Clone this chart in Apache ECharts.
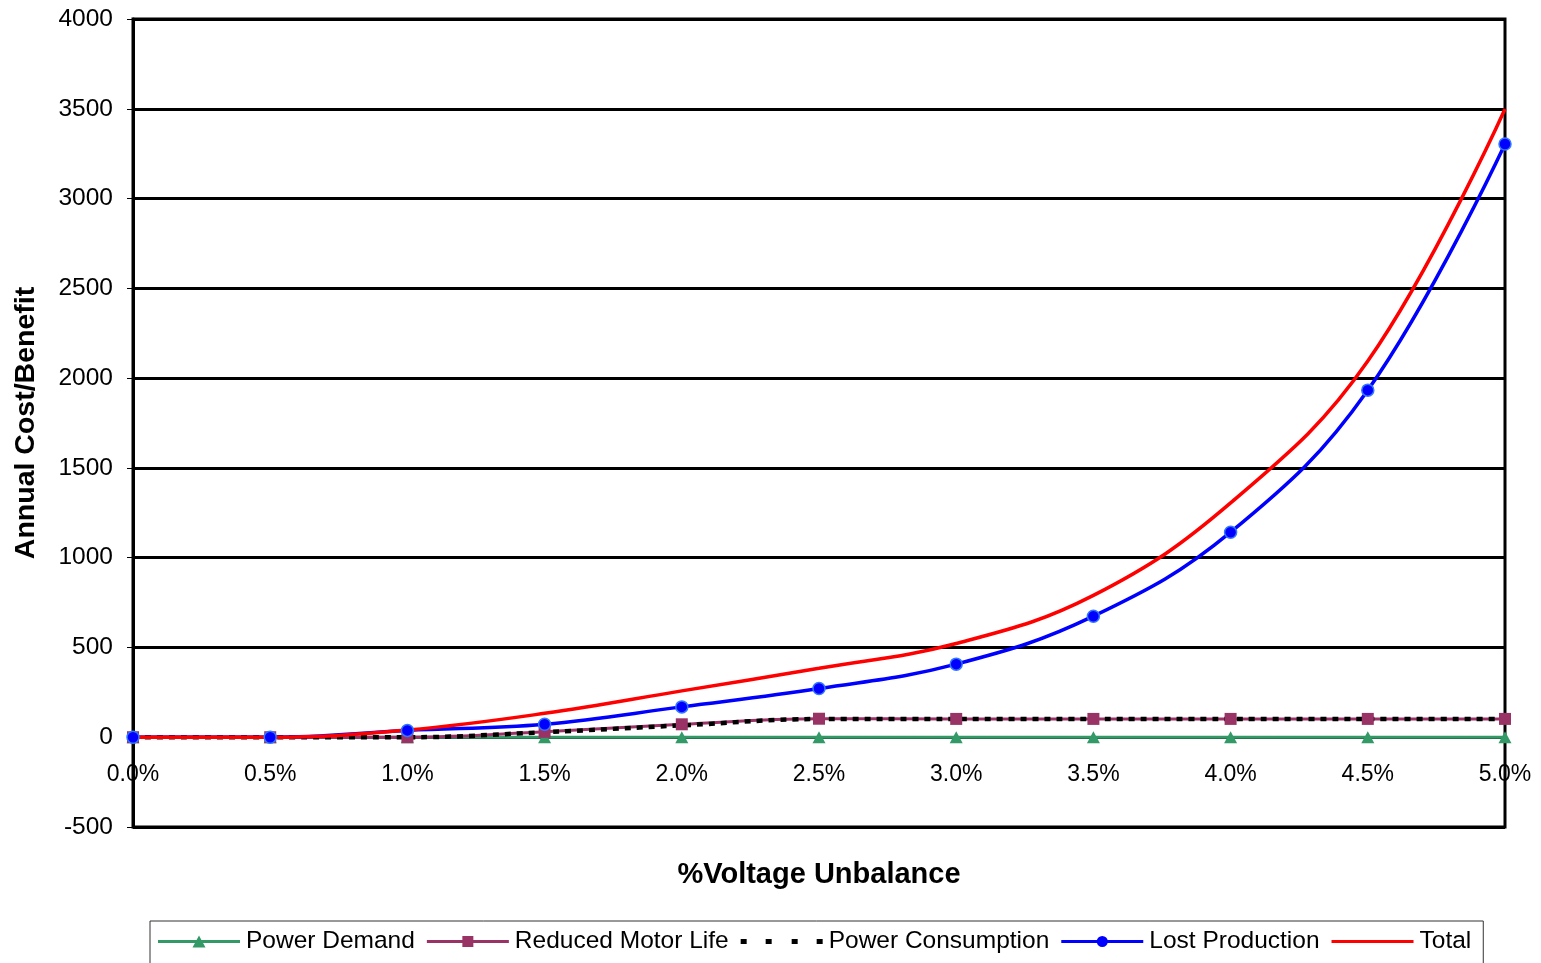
<!DOCTYPE html>
<html>
<head>
<meta charset="utf-8">
<script src="https://cdn.jsdelivr.net/npm/echarts@6/dist/echarts.min.js"></script>
<style>
html,body{margin:0;padding:0;background:#fff;}
#chart{width:1541px;height:963px;}
</style>
</head>
<body>
<div id="chart"></div>
<script>
var categories = ['0.0%','0.5%','1.0%','1.5%','2.0%','2.5%','3.0%','3.5%','4.0%','4.5%','5.0%'];
var powerDemand = [0,0,0,0,0,0,0,0,0,0,0];
var reducedMotorLife = [0,0,0,30,72,103,102,102,102,102,102];
var powerConsumption = [0,0,0,28,66,101,101,101,101,101,101];
var lostProduction = [0,0,38,72,169,271,407,674,1142,1933,3304];
var total = [0,0,40,133,258,384,522,790,1305,2095,3499];
var yTicks = {min:-500, max:4000, interval:500};

var FONT = 'Liberation Sans, Arial, sans-serif';
var BAR = 'M0,4.5 L82,4.5 L82,7.5 L0,7.5 Z ';
var icons = {
  demand: 'path://' + BAR + 'M34.5,12 L41,0 L47.5,12 Z',
  motor: 'path://' + BAR + 'M35.5,0.5 L46.5,0.5 L46.5,11.5 L35.5,11.5 Z',
  consumption: 'path://M0,3.5 L6,3.5 L6,8.5 L0,8.5 Z M25,3.5 L31,3.5 L31,8.5 L25,8.5 Z M51,3.5 L57,3.5 L57,8.5 L51,8.5 Z M76,3.5 L82,3.5 L82,8.5 L76,8.5 Z',
  lost: 'path://' + BAR + 'M46.5,6 A5.5,5.5 0 1,1 35.5,6 A5.5,5.5 0 1,1 46.5,6 Z',
  total: 'path://' + BAR
};

var chart = echarts.init(document.getElementById('chart'));
chart.setOption({
  animation:false,
  backgroundColor:'#fff',
  textStyle:{fontFamily:FONT},
  grid:{left:133,right:36,top:19,bottom:136,containLabel:false,outerBoundsMode:'none',
        show:true,borderColor:'#000',borderWidth:3,backgroundColor:'transparent'},
  xAxis:{
    type:'category',
    data:categories,
    boundaryGap:false,
    offset:-89.8,
    axisLine:{show:true,onZero:false,lineStyle:{color:'#000',width:2}},
    axisTick:{show:false},
    axisLabel:{color:'#000',fontSize:23,fontFamily:FONT,margin:26},
    splitLine:{show:false}
  },
  yAxis:{
    type:'value',
    min:yTicks.min,max:yTicks.max,interval:yTicks.interval,
    name:'Annual Cost/Benefit',
    nameLocation:'middle',
    nameGap:92,
    nameRotate:90,
    nameTextStyle:{color:'#000',fontSize:28.5,fontWeight:'bold',fontFamily:FONT},
    axisLine:{show:true,lineStyle:{color:'#000',width:3}},
    axisTick:{show:true,inside:false,length:6,lineStyle:{color:'#000',width:1}},
    axisLabel:{color:'#000',fontSize:24.5,fontFamily:FONT,margin:20,formatter:function(v){return String(v);}},
    splitLine:{show:true,lineStyle:{color:'#000',width:3}}
  },
  graphic:[{
    type:'text',
    x:819, y:875,
    style:{text:'%Voltage Unbalance',fill:'#000',font:'bold 29px '+FONT,textAlign:'center',textVerticalAlign:'middle'}
  }],
  legend:{
    left:150, top:921,
    padding:[8,12,30,8],
    borderColor:'#333',borderWidth:1,
    itemWidth:82,itemHeight:12,itemGap:12,
    itemStyle:{borderWidth:0},
    textStyle:{color:'#000',fontSize:24.5,fontFamily:FONT,padding:[0,0,0,1]},
    data:[
      {name:'Power Demand',icon:icons.demand},
      {name:'Reduced Motor Life',icon:icons.motor},
      {name:'Power Consumption',icon:icons.consumption},
      {name:'Lost Production',icon:icons.lost,itemStyle:{borderWidth:0}},
      {name:'Total',icon:icons.total}
    ]
  },
  series:[
    {name:'Power Demand',type:'line',data:powerDemand,smooth:0.4,
     symbol:'triangle',symbolSize:[13,12],color:'#339966',
     lineStyle:{color:'#339966',width:3},itemStyle:{color:'#339966'}},
    {name:'Reduced Motor Life',type:'line',data:reducedMotorLife,smooth:0.4,
     symbol:'rect',symbolSize:12,color:'#993366',
     lineStyle:{color:'#993366',width:3},itemStyle:{color:'#993366'}},
    {name:'Power Consumption',type:'line',data:powerConsumption,smooth:0.4,
     symbol:'none',color:'#000',
     lineStyle:{color:'#000',width:4.5,type:[6,6]},itemStyle:{color:'#000'}},
    {name:'Lost Production',type:'line',data:lostProduction,smooth:0.4,
     symbol:'circle',symbolSize:12,color:'#0000ff',
     lineStyle:{color:'#0000ff',width:3.5},itemStyle:{color:'#0000ff',borderColor:'#3377ff',borderWidth:1.5}},
    {name:'Total',type:'line',data:total,smooth:0.4,
     symbol:'none',color:'#ff0000',
     lineStyle:{color:'#ff0000',width:3.5},itemStyle:{color:'#ff0000'}}
  ]
});
</script>
</body>
</html>
